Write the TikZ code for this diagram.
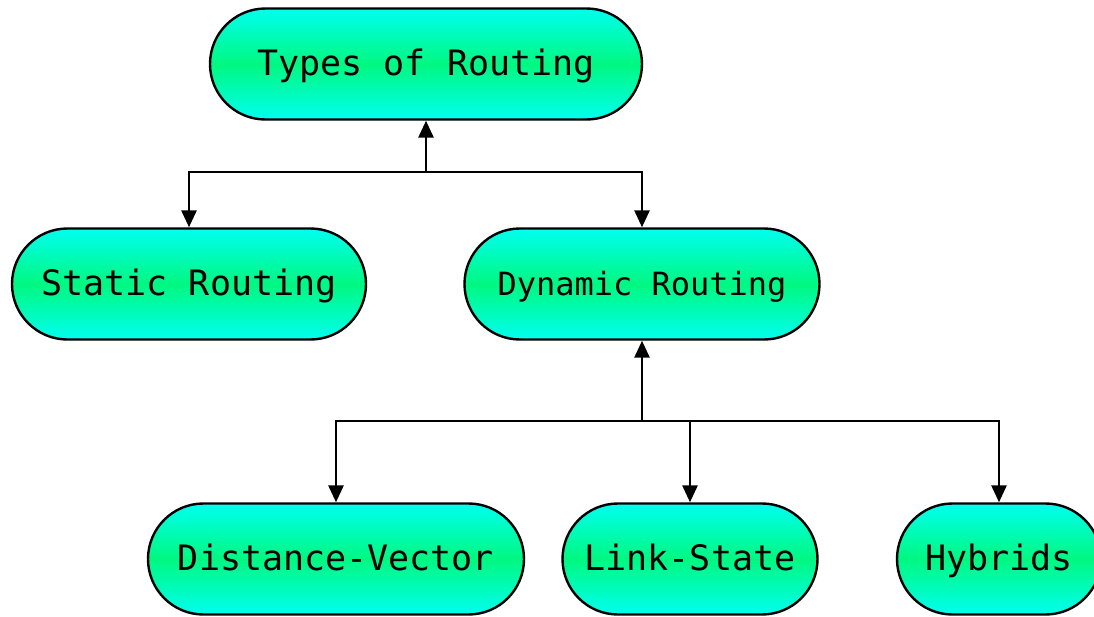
\documentclass[tikz,border=0pt]{standalone}
\usepackage{fontspec}
\setmonofont{DejaVu Sans Mono}
\usetikzlibrary{arrows.meta}
\definecolor{sgreen}{RGB}{0,248,128}
\definecolor{scyan}{RGB}{0,255,240}
\tikzset{
  pill/.style={draw=black, line width=2.4pt, rounded corners=55.5pt, minimum height=111pt,
    inner sep=0pt, top color=scyan, bottom color=scyan, middle color=sgreen,
    text height=30pt, text depth=7pt,
    font=\ttfamily\fontsize{35}{40}\selectfont},
  arr/.style={line width=2.8pt, -{Triangle[length=17pt,width=15pt]}}
}
\begin{document}
\begin{tikzpicture}[x=1pt,y=-1pt]
\fill[white] (0,0) rectangle (1094,616);
\useasboundingbox (0,0) rectangle (1094,616);
\node[pill, minimum width=432pt] (types) at (426,64) {Types of Routing};
\node[pill, minimum width=354pt] (static) at (189,284) {Static Routing};
\node[pill, minimum width=355pt, font=\ttfamily\fontsize{32}{38}\selectfont] (dynamic) at (642,284) {Dynamic Routing};
\node[pill, minimum width=376pt] (dv) at (336,559) {Distance-Vector};
\node[pill, minimum width=255pt] (ls) at (690,559) {Link-State};
\node[pill, minimum width=204pt] (hy) at (999,559) {Hybrids};
\coordinate (j1) at (426,172);
\coordinate (j2) at (642,421);
\draw[arr] (j1) -- (types.south);
\draw[arr] (j1) -| (static.north);
\draw[arr] (j1) -| (dynamic.north);
\draw[arr] (j2) -- (dynamic.south);
\draw[arr] (j2) -| (dv.north);
\draw[arr] (j2) -| (ls.north);
\draw[arr] (j2) -| (hy.north);
\end{tikzpicture}
\end{document}
